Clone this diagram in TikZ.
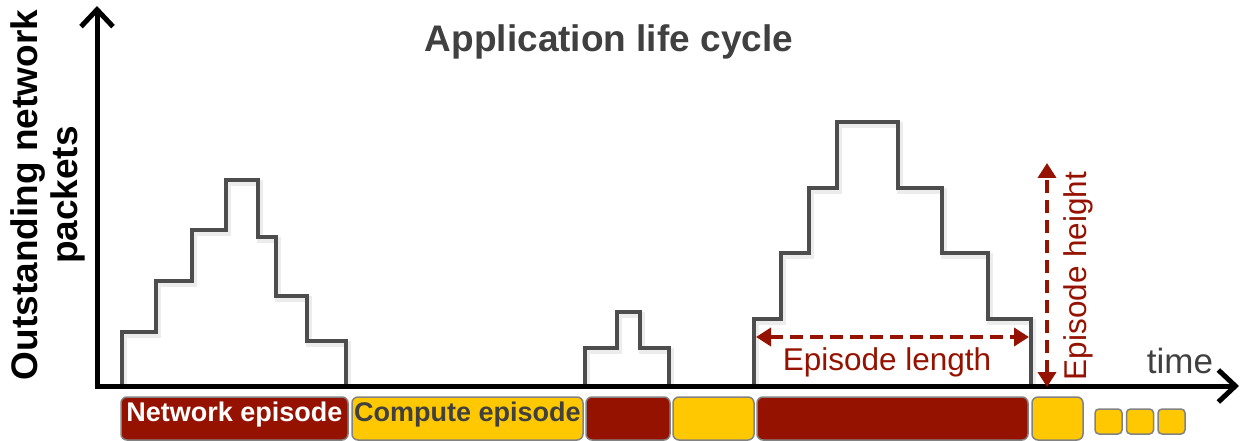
\documentclass[tikz,border=0pt]{standalone}
\usepackage{fontspec}
\setmainfont{Liberation Sans}
\usetikzlibrary{arrows.meta}
\definecolor{epred}{RGB}{150,18,0}
\definecolor{epyellow}{RGB}{255,200,0}
\definecolor{stairgray}{RGB}{77,77,77}
\definecolor{titlegray}{RGB}{64,64,64}
\definecolor{boxborder}{RGB}{130,130,130}
\tikzset{
  axisline/.style={line width=5pt, black, {Straight Barb[length=17pt,width=32pt]}-{Straight Barb[length=17pt,width=32pt]}},
  stair/.style={line width=4pt, stairgray, line join=miter},
  stairshadow/.style={line width=6pt, black!15, opacity=0.5, line join=miter},
  measure/.style={line width=4pt, epred, dash pattern=on 13pt off 7pt, {Triangle[length=15pt,width=18pt]}-{Triangle[length=15pt,width=18pt]}},
  epbox/.style={draw=boxborder, line width=1.5pt, rounded corners=6pt, inner sep=0pt, minimum height=43pt,
     font=\fontsize{27}{30}\selectfont\bfseries, text height=0.72em, text depth=0.06em},
  netbox/.style={epbox, fill=epred, text=white},
  compbox/.style={epbox, fill=epyellow, text=titlegray},
  dotbox/.style={draw=boxborder, line width=1.5pt, rounded corners=4pt, fill=epyellow, minimum width=27pt, minimum height=25pt, inner sep=0pt},
}
\begin{document}
\begin{tikzpicture}[x=1pt,y=-1pt]
\useasboundingbox (0,0) rectangle (1240,441);
% title
\node[anchor=base, text=titlegray, font=\fontsize{37}{40}\selectfont\bfseries, inner sep=0pt] (title) at (609,52) {Application life cycle};
% y label
\node[rotate=90, align=center, font=\fontsize{37}{40}\selectfont\bfseries, inner sep=0pt] (ylabel) at (48,195) {Outstanding network\\packets};
% axes
\coordinate (ytip) at (97,6);
\coordinate (xtip) at (1239,386);
% staircase shadows
\begin{scope}[shift={(2,3)}]
\draw[stairshadow] (122,383) |- (156,332) |- (192,281) |- (226,230) |- (258,180) |- (276,237) |- (307,296) |- (346,341) -- (346,383);
\draw[stairshadow] (585,383) |- (617,348) |- (640,312) |- (669,348) -- (669,383);
\draw[stairshadow] (754,383) |- (781,319) |- (809,253) |- (837,188) |- (898,122) |- (942,188) |- (988,253) |- (1031,319) -- (1031,383);
\end{scope}
% staircases
\draw[stair] (122,386) |- (156,332) |- (192,281) |- (226,230) |- (258,180) |- (276,237) |- (307,296) |- (346,341) -- (346,386);
\draw[stair] (585,386) |- (617,348) |- (640,312) |- (669,348) -- (669,386);
\draw[stair] (754,386) |- (781,319) |- (809,253) |- (837,188) |- (898,122) |- (942,188) |- (988,253) |- (1031,319) -- (1031,386);
% axis
\draw[axisline] (xtip) -| (ytip);
% time label
\node[anchor=base, text=titlegray, font=\fontsize{35}{40}\selectfont, inner sep=0pt] (time) at (1180,373) {time};
% episode length
\coordinate (lenA) at (756,337);
\coordinate (lenB) at (1029,337);
\draw[measure] (lenA) -- (lenB);
\node[anchor=base, text=epred, font=\fontsize{31.5}{34}\selectfont, inner sep=0pt] (lenlabel) at (887,370) {Episode length};
% episode height
\coordinate (hA) at (1047,387);
\coordinate (hB) at (1047,163);
\draw[measure] (hA) -- (hB);
\node[rotate=90, text=epred, font=\fontsize{31.5}{34}\selectfont, inner sep=0pt, text height=0.72em, text depth=0.2em] (hlabel) at (1084,276) {Episode height};
% episode boxes
\node[netbox, minimum width=227pt] (b1) at (234.5,418.5) {Network episode};
\node[compbox, minimum width=231pt] (b2) at (467.5,418.5) {Compute episode};
\node[netbox, minimum width=84pt] (b3) at (628,418.5) {};
\node[compbox, minimum width=81pt] (b4) at (713.5,418.5) {};
\node[netbox, minimum width=271pt] (b5) at (892.5,418.5) {};
\node[compbox, minimum width=51pt] (b6) at (1057.5,418.5) {};
\node[dotbox] (d1) at (1108.5,421.5) {};
\node[dotbox] (d2) at (1140,421.5) {};
\node[dotbox] (d3) at (1171.5,421.5) {};
\end{tikzpicture}
\end{document}
